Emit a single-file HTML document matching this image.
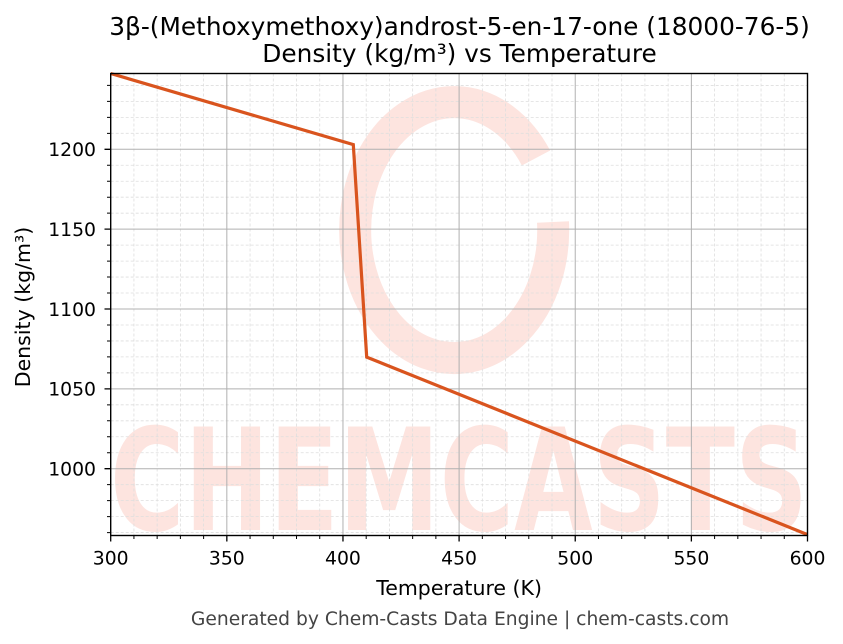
<!DOCTYPE html>
<html>
<head>
<meta charset="utf-8">
<style>
  html, body { margin: 0; padding: 0; background: #ffffff; }
  body { width: 843px; height: 644px; overflow: hidden; }
  svg { display: block; }
  text { font-family: "DejaVu Sans", "Liberation Sans", sans-serif; fill: #000; }
</style>
</head>
<body>
<svg width="843" height="644" viewBox="0 0 843 644" xmlns="http://www.w3.org/2000/svg">
  <rect x="0" y="0" width="843" height="644" fill="#ffffff"/>

  <!-- watermark -->
  <g>
    <path d="M553 222 A99 128 0 1 1 536 158" fill="none" stroke="#fde4df" stroke-width="32" stroke-linecap="butt"/>
    <text x="110" y="530" font-size="142" font-weight="bold" textLength="698" lengthAdjust="spacingAndGlyphs" style="fill:#fde4df;font-family:'DejaVu Sans','Liberation Sans',sans-serif;">CHEMCASTS</text>
  </g>

  <!-- minor grid -->
  <path fill="none" stroke="#dedede" stroke-width="0.8" stroke-dasharray="3,2"
    d="M133.93 73.5V535.5M157.15 73.5V535.5M180.38 73.5V535.5M203.61 73.5V535.5
       M250.06 73.5V535.5M273.29 73.5V535.5M296.51 73.5V535.5M319.74 73.5V535.5
       M366.19 73.5V535.5M389.42 73.5V535.5M412.65 73.5V535.5M435.87 73.5V535.5
       M482.33 73.5V535.5M505.55 73.5V535.5M528.78 73.5V535.5M552.01 73.5V535.5
       M598.46 73.5V535.5M621.69 73.5V535.5M644.91 73.5V535.5M668.14 73.5V535.5
       M714.59 73.5V535.5M737.82 73.5V535.5M761.05 73.5V535.5M784.27 73.5V535.5
       M110.7 532.58H807.5M110.7 516.61H807.5M110.7 500.64H807.5M110.7 484.67H807.5
       M110.7 452.73H807.5M110.7 436.76H807.5M110.7 420.79H807.5M110.7 404.82H807.5
       M110.7 372.88H807.5M110.7 356.91H807.5M110.7 340.94H807.5M110.7 324.97H807.5
       M110.7 293.03H807.5M110.7 277.06H807.5M110.7 261.09H807.5M110.7 245.12H807.5
       M110.7 213.18H807.5M110.7 197.21H807.5M110.7 181.24H807.5M110.7 165.27H807.5
       M110.7 133.33H807.5M110.7 117.36H807.5M110.7 101.39H807.5M110.7 85.42H807.5"/>

  <!-- major grid -->
  <path fill="none" stroke="#b0b0b0" stroke-width="1"
    d="M226.83 73.5V535.5M342.97 73.5V535.5M459.1 73.5V535.5M575.23 73.5V535.5M691.37 73.5V535.5
       M110.7 468.7H807.5M110.7 388.85H807.5M110.7 309H807.5M110.7 229.15H807.5M110.7 149.3H807.5"/>

  <!-- data line -->
  <polyline fill="none" stroke="#d9541e" stroke-width="3.2" stroke-linejoin="miter"
    points="110.7,73.5 353.3,144.6 366.7,357.1 807.5,534.6"/>

  <!-- spines -->
  <rect x="110.7" y="73.5" width="696.8" height="462" fill="none" stroke="#000" stroke-width="1.4"/>

  <!-- ticks -->
  <path fill="none" stroke="#000" stroke-width="1.3"
    d="M110.7 535.5V541.5M226.83 535.5V541.5M342.97 535.5V541.5M459.1 535.5V541.5M575.23 535.5V541.5M691.37 535.5V541.5M807.5 535.5V541.5
       M110.7 468.7H104.5M110.7 388.85H104.5M110.7 309H104.5M110.7 229.15H104.5M110.7 149.3H104.5"/>
  <path fill="none" stroke="#000" stroke-width="1"
    d="M133.93 535.5V539M157.15 535.5V539M180.38 535.5V539M203.61 535.5V539
       M250.06 535.5V539M273.29 535.5V539M296.51 535.5V539M319.74 535.5V539
       M366.19 535.5V539M389.42 535.5V539M412.65 535.5V539M435.87 535.5V539
       M482.33 535.5V539M505.55 535.5V539M528.78 535.5V539M552.01 535.5V539
       M598.46 535.5V539M621.69 535.5V539M644.91 535.5V539M668.14 535.5V539
       M714.59 535.5V539M737.82 535.5V539M761.05 535.5V539M784.27 535.5V539
       M110.7 532.58H107M110.7 516.61H107M110.7 500.64H107M110.7 484.67H107
       M110.7 452.73H107M110.7 436.76H107M110.7 420.79H107M110.7 404.82H107
       M110.7 372.88H107M110.7 356.91H107M110.7 340.94H107M110.7 324.97H107
       M110.7 293.03H107M110.7 277.06H107M110.7 261.09H107M110.7 245.12H107
       M110.7 213.18H107M110.7 197.21H107M110.7 181.24H107M110.7 165.27H107
       M110.7 133.33H107M110.7 117.36H107M110.7 101.39H107M110.7 85.42H107"/>

  <!-- x tick labels -->
  <g font-size="18.8" text-anchor="middle">
    <text x="110.7" y="564.5">300</text>
    <text x="226.83" y="564.5">350</text>
    <text x="342.97" y="564.5">400</text>
    <text x="459.1" y="564.5">450</text>
    <text x="575.23" y="564.5">500</text>
    <text x="691.37" y="564.5">550</text>
    <text x="807.5" y="564.5">600</text>
  </g>

  <!-- y tick labels -->
  <g font-size="18.8" text-anchor="end">
    <text x="96" y="475.5">1000</text>
    <text x="96" y="395.7">1050</text>
    <text x="96" y="315.8">1100</text>
    <text x="96" y="236">1150</text>
    <text x="96" y="156.1">1200</text>
  </g>

  <!-- axis labels -->
  <text x="459.1" y="595" font-size="20.5" text-anchor="middle">Temperature (K)</text>
  <text x="0" y="0" font-size="20.5" text-anchor="middle" transform="translate(30,307) rotate(-90)">Density (kg/m³)</text>

  <!-- title -->
  <text x="459.5" y="35" font-size="24.8" text-anchor="middle">3β-(Methoxymethoxy)androst-5-en-17-one (18000-76-5)</text>
  <text x="459.5" y="62" font-size="24.8" text-anchor="middle">Density (kg/m³) vs Temperature</text>

  <!-- footer -->
  <text x="460" y="625" font-size="18.7" text-anchor="middle" style="fill:#444444;">Generated by Chem-Casts Data Engine | chem-casts.com</text>
</svg>
</body>
</html>
